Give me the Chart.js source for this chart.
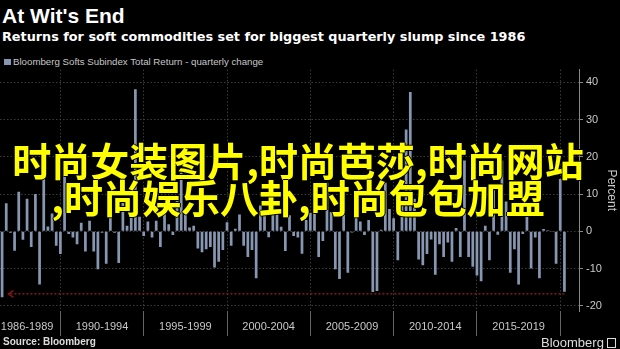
<!DOCTYPE html>
<html>
<head>
<meta charset="utf-8">
<script src="https://cdn.jsdelivr.net/npm/chart.js@4.4.0/dist/chart.umd.min.js"></script>
<style>
  html, body { margin: 0; padding: 0; background: #000; }
  body { width: 620px; height: 349px; position: relative; overflow: hidden; font-family: 'Liberation Sans', Arial, sans-serif; }
  #title { position: absolute; left: 2px; top: 5px; font: bold 21px/21px 'Liberation Sans', Arial, sans-serif; color: #fff; }
  #subtitle { position: absolute; left: 2px; top: 30px; font: bold 12.8px/13px 'DejaVu Sans', sans-serif; color: #fff; white-space: nowrap; }
  #legend { position: absolute; left: 4px; top: 56.5px; font: 9.7px/9.7px 'Liberation Sans', Arial, sans-serif; color: #c8c8c8; white-space: nowrap; }
  #legend .swatch { display: inline-block; width: 7px; height: 6px; background: #8797b2; margin-right: 2px; }
  #chartBox { position: absolute; left: 0; top: 60px; width: 620px; height: 280px; }
  #overlay { position: absolute; left: 0; top: 141px; width: 596px; text-align: center; z-index: 5;
    font: bold 39px/37px 'Noto Sans CJK SC', sans-serif; color: #ffff00; white-space: nowrap;
    text-shadow: 1px 0 0 #000, -1px 0 0 #000, 0 1px 0 #000, 0 -1px 0 #000; pointer-events: none; }
  #source { position: absolute; left: 3px; top: 337px; font: bold 10px/10px 'Liberation Sans', Arial, sans-serif; color: #ddd; }
  #brand { position: absolute; left: 541px; top: 336px; font: 13px/13px 'Liberation Sans', Arial, sans-serif; color: #ddd; white-space: nowrap; }
  #brand .icon { display: inline-block; width: 7px; height: 8px; border: 1px solid #ddd; margin-left: 3px; vertical-align: -1px; }
</style>
</head>
<body>
<div id="title">At Wit's End</div>
<div id="subtitle">Returns for soft commodities set for biggest quarterly slump since 1986</div>
<div id="legend"><span class="swatch"></span>Bloomberg Softs Subindex Total Return - quarterly change</div>
<div id="chartBox"><canvas id="chart"></canvas></div>
<div id="overlay">时尚女装图片,时尚芭莎,时尚网站<br>,时尚娱乐八卦,时尚包包加盟</div>
<div id="source">Source: Bloomberg</div>
<div id="brand">Bloomberg<span class="icon"></span></div>
<script>
// quarters 1986Q2 .. 2020Q4 (last three are empty)
const startYear = 1986;
const startQuarter = 2;
const endYear = 2020;
const quarters = [];
for (let y = startYear; y <= endYear; y++) {
  for (let q = 1; q <= 4; q++) {
    if (y === startYear && q < startQuarter) continue;
    quarters.push(y + 'Q' + q);
  }
}

// quarterly change, percent (1986Q2 .. 2020Q1)
const softsReturns = [
  -17.7, 7.5, -0.4, -5.2, 10.6, -2.3, 8.7, -4.2, 10.0, -14.3,
  14.0, 1.3, 4.8, -3.9, -6.1, 17.0, -0.7, -1.7, -3.5, 2.3,
  -5.4, 2.8, -5.4, -10.2, -0.4, -8.7, 6.0, -0.4, -8.5, 8.0,
  1.5, 3.9, 38.1, 3.9, -1.3, 2.6, -1.7, 2.8, -4.2, 7.0,
  1.9, -1.0, 9.0, 15.8, 6.0, 1.0, 1.5, -4.6, -5.6, -4.8,
  -4.2, -9.7, -8.2, -5.0, 2.4, -3.9, 0.7, 4.5, -3.9, -6.9,
  -5.0, -12.6, 6.9, 5.2, -1.6, 8.7, 5.0, 1.2, -5.3, 4.3,
  -1.3, -1.7, -6.0, 3.0, 5.0, 6.9, -6.9, -2.6, 13.0, 5.2,
  -10.2, -12.8, 6.7, -11.1, -0.3, 5.2, 2.6, -1.0, 3.0, -16.3,
  -16.0, 0.4, 13.0, 6.0, 3.5, -7.8, 6.9, 27.3, 37.4, 8.7,
  -7.6, -9.1, -6.1, -2.2, -11.7, -3.5, -6.9, -3.0, -8.2, 0.9,
  -6.9, 19.0, -6.9, -9.5, -11.9, -13.4, 1.5, -7.8, 11.0, -0.9,
  19.0, 8.0, -11.1, -4.8, -14.3, -0.7, 5.2, -10.0, -1.7, -12.6,
  0.6, 0.3, -0.2, -8.7, 14.0, -16.2
];

const periodLabels = ['1986-1989', '1990-1994', '1995-1999', '2000-2004', '2005-2009', '2010-2014', '2015-2019'];
const periodEnds = [1989, 1994, 1999, 2004, 2009, 2014, 2019];

const yTicks = [-20, -10, 0, 10, 20, 30, 40];
const yMin = -21.4;
const yMax = 43.4;

// reference line: current slump level
const slumpLevel = -16.8;
const slumpStart = '1986Q4';
const slumpEnd = '2020Q1';

function qIndex(year, q) {
  return (year - startYear) * 4 + (q - startQuarter);
}

//Linhas de grade nas viradas de período e rótulos no meio de cada período
const boundaryIdx = periodEnds.map(y => qIndex(y, 4));
const labelAt = {};
periodEnds.forEach((end, k) => {
  const prevEnd = k === 0 ? periodEnds[0] - 4 : periodEnds[k - 1];
  labelAt[(qIndex(prevEnd, 4) + qIndex(end, 4)) / 2] = periodLabels[k];
});

const slumpLine = quarters.map(q => (q === slumpStart || q === slumpEnd) ? slumpLevel : null);

//Seta "<" na ponta esquerda da linha vermelha
const arrow = document.createElement('canvas');
arrow.width = 10;
arrow.height = 10;
(function () {
  const c = arrow.getContext('2d');
  c.strokeStyle = '#a02020';
  c.lineWidth = 1.3;
  c.beginPath();
  c.moveTo(8, 1.5);
  c.lineTo(3, 5);
  c.lineTo(8, 8.5);
  c.stroke();
})();

const barColor = '#8797b2';
const gridColor = '#3c3c3c';

new Chart(document.getElementById('chart'), {
  type: 'bar',
  data: {
    labels: quarters,
    datasets: [
      {
        type: 'line',
        label: 'slump',
        data: slumpLine,
        borderColor: '#9b2020',
        borderWidth: 1.4,
        borderDash: [2, 2],
        spanGaps: true,
        pointStyle: arrow,
        pointRadius: ctx => quarters[ctx.dataIndex] === slumpStart ? 5 : 0,
        order: 0
      },
      {
        label: 'Bloomberg Softs Subindex Total Return - quarterly change',
        data: softsReturns,
        backgroundColor: barColor,
        borderWidth: 0,
        barPercentage: 0.65,
        categoryPercentage: 1,
        order: 1
      }
    ]
  },
  options: {
    responsive: true,
    maintainAspectRatio: false,
    animation: false,
    layout: { padding: { top: 2, left: 0, right: 0, bottom: 0 } },
    plugins: {
      legend: { display: false },
      tooltip: { enabled: false }
    },
    scales: {
      x: {
        offset: true,
        grid: {
          offset: false,
          color: ctx => boundaryIdx.includes(ctx.index) ? gridColor : 'rgba(0,0,0,0)',
          tickColor: ctx => boundaryIdx.includes(ctx.index) ? '#666' : 'rgba(0,0,0,0)',
          tickLength: 25,
          tickBorderDash: []
        },
        border: { display: false, dash: [1.5, 2] },
        ticks: {
          autoSkip: false,
          maxRotation: 0,
          minRotation: 0,
          color: '#c8c8c8',
          font: { family: 'Liberation Sans', size: 11 },
          padding: -15.6,
          callback: (v, i) => labelAt[i] || ''
        },
        afterFit: s => { s.height = 29; }
      },
      y: {
        position: 'right',
        min: yMin,
        max: yMax,
        afterBuildTicks: s => { s.ticks = yTicks.map(v => ({ value: v })); },
        grid: { color: gridColor, tickColor: '#888', tickLength: 4, tickBorderDash: [] },
        border: { display: true, color: '#888', dash: [1.5, 2] },
        ticks: {
          color: '#c8c8c8',
          font: { family: 'Liberation Sans', size: 11 },
          padding: 3
        },
        title: {
          display: true,
          text: 'Percent',
          color: '#c8c8c8',
          font: { family: 'Liberation Sans', size: 12 },
          padding: { top: 1.5, bottom: 0 }
        },
        afterFit: s => { s.width = 41; }
      }
    }
  }
});
</script>
</body>
</html>
